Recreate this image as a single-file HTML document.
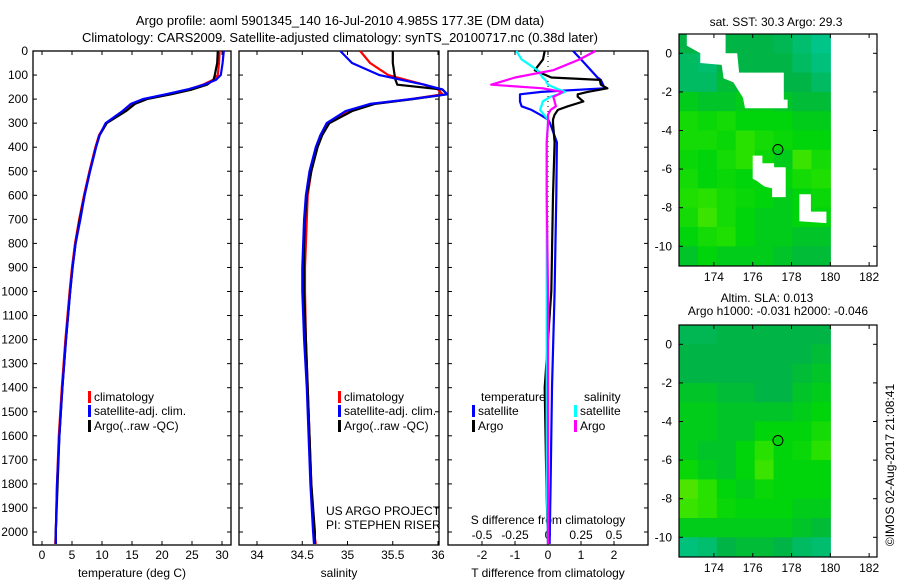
<!DOCTYPE html>
<html><head><meta charset="utf-8"><style>
body{margin:0;background:#fff;}
svg{display:block;font-family:"Liberation Sans",sans-serif;font-size:12px;}
</style></head><body>
<svg id="fig" width="900" height="580" viewBox="0 0 900 580" xmlns="http://www.w3.org/2000/svg">
<rect width="900" height="580" fill="#fff"/>
<text x="340" y="25" text-anchor="middle" font-size="13">Argo profile: aoml 5901345_140 16-Jul-2010 4.985S 177.3E (DM data)</text>
<text x="340" y="42" text-anchor="middle" font-size="13">Climatology: CARS2009. Satellite-adjusted climatology: synTS_20100717.nc (0.38d later)</text>
<g id="g"></g>
</svg>
<script>
// ---- profile data ----
const depthP=[0,50,100,120,140,160,180,200,220,250,300,350,400,500,600,700,800,900,1000,1200,1400,1600,1800,2000,2050];
const argoT=[29.3,29.2,28.8,28.6,27.5,25.0,21.5,17.5,15.5,14.0,10.8,9.6,9.0,8.0,7.1,6.3,5.6,5.1,4.7,4.0,3.4,2.9,2.6,2.3,2.3];
const climT=[29.6,29.5,29.3,28.5,26.8,24.5,21.0,17.2,15.2,13.7,10.7,9.5,8.9,7.9,7.0,6.2,5.5,5.0,4.6,3.9,3.3,2.8,2.5,2.3,2.2];
const satT=[30.3,30.1,29.8,29.0,27.0,24.2,20.6,16.8,14.8,13.4,10.6,9.6,9.0,8.0,7.1,6.4,5.6,5.1,4.7,4.0,3.4,2.9,2.5,2.3,2.3];
const argoS=[35.5,35.5,35.52,35.53,35.55,36.05,36.1,35.72,35.3,35.05,34.8,34.72,34.67,34.6,34.55,34.53,34.52,34.52,34.52,34.54,34.56,34.58,34.6,34.64,34.64];
const climS=[35.14,35.25,35.45,35.65,35.85,36.0,36.05,35.7,35.28,35.0,34.78,34.7,34.66,34.6,34.56,34.55,34.54,34.53,34.53,34.54,34.56,34.58,34.6,34.63,34.65];
const satS=[34.92,35.05,35.35,35.6,35.85,36.05,36.1,35.7,35.25,34.98,34.77,34.7,34.65,34.58,34.54,34.52,34.51,34.5,34.5,34.52,34.55,34.57,34.59,34.62,34.63];
const depthD=[0,35,80,110,120,140,155,170,180,190,210,230,245,265,285,300,380,600,1000,1400,1800,2050];
const dTsat=[0.76,1.0,1.3,1.5,1.6,1.67,1.7,-0.2,-0.85,-0.85,-0.85,-0.8,-0.5,-0.24,0.0,0.06,0.27,0.25,0.2,0.12,0.08,0.05];
const dTargo=[-0.1,-0.15,-0.4,0.1,1.57,1.6,1.8,1.2,0.9,0.9,1.07,0.6,0.3,0.2,0.15,0.15,0.2,0.15,0.1,-0.1,-0.05,0.0];
const dSargo=[0.36,0.24,0.04,-0.25,-0.31,-0.43,-0.04,0.11,0.08,0.04,0.05,0.06,0.02,0.0,0.0,0.0,-0.01,-0.01,0.0,0.0,0.0,0.0];
const dSsat=[-0.24,-0.2,-0.08,-0.04,-0.02,0.0,0.06,0.13,0.08,0.02,-0.04,-0.05,-0.06,-0.03,0.0,0.0,-0.01,-0.01,-0.01,-0.01,-0.01,0.0];
const depthTicks=[0,100,200,300,400,500,600,700,800,900,1000,1100,1200,1300,1400,1500,1600,1700,1800,1900,2000];
const tTicks=[0,5,10,15,20,25,30];
const sTicks=[34,34.5,35,35.5,36];
const dTTicks=[-2,-1,0,1,2];
const dSTicks=[-0.5,-0.25,0,0.25,0.5];
const sTickLabels=["-0.5","-0.25","0","0.25","0.5"];
// ---- map data (rows lat 1..-11, cols lon 172.2..180) ----
const sstGrid=[
[.3,.3,.3,.3,.3,.25,.15,.05],[.2,.15,.3,.3,.3,.3,.2,.1],[.2,.2,.35,.35,.35,.3,.3,.2],
[.45,.4,.4,.45,.45,.4,.35,.35],[.6,.55,.6,.5,.5,.5,.45,.45],[.6,.6,.55,.7,.6,.55,.5,.5],
[.55,.5,.6,.7,.55,.45,.75,.6],[.6,.5,.55,.5,.5,.5,.6,.65],[.65,.7,.6,.55,.5,.45,.5,.55],
[.6,.75,.6,.5,.45,.45,.5,.5],[.5,.6,.65,.5,.45,.45,.4,.4],[.4,.5,.45,.45,.45,.4,.35,.35]];
const slaGrid=[
[.25,.25,.3,.3,.3,.3,.3,.3],[.3,.3,.3,.3,.3,.3,.3,.35],[.3,.3,.3,.3,.3,.3,.35,.4],
[.4,.4,.35,.35,.3,.3,.4,.45],[.45,.45,.4,.4,.4,.4,.45,.5],[.45,.45,.4,.4,.5,.5,.5,.6],
[.45,.4,.4,.5,.7,.5,.55,.7],[.55,.45,.4,.5,.75,.5,.5,.5],[.8,.7,.5,.45,.55,.5,.5,.5],
[.75,.7,.55,.5,.5,.5,.45,.45],[.45,.45,.45,.45,.45,.45,.4,.35],[.1,.15,.3,.35,.35,.3,.2,.15]];
const gap1=[[172.6,1],[174.6,1],[174.6,0],[175.2,0],[175.3,-1],[177.6,-1],[177.6,-2.4],[177.8,-2.4],[177.8,-2.85],[175.6,-2.85],[175.5,-2.3],[175,-1.5],[174.5,-1.3],[174.4,-0.6],[173.3,-0.5],[173.3,0],[172.6,0.4]];
const gap2=[[176,-5.3],[176.5,-5.3],[176.5,-5.7],[177.1,-5.7],[177.1,-5.9],[177.7,-5.9],[177.7,-7.45],[177,-7.45],[177,-7],[176.6,-6.9],[176.2,-6.6],[176,-6.5]];
const gap3=[[178.4,-7.3],[179,-7.3],[179,-8.2],[179.8,-8.2],[179.8,-8.8],[178.4,-8.7]];
const argoLon=177.3, argoLat=-4.985;
const lonTicks=[174,176,178,180,182];
const latTicks=[0,-2,-4,-6,-8,-10];

const NS="http://www.w3.org/2000/svg";
const G=document.getElementById('g');
function mk(tag,at,parent){const e=document.createElementNS(NS,tag);for(const k in at)e.setAttribute(k,at[k]);(parent||G).appendChild(e);return e;}
function txt(s,x,y,anchor,name,extra){const e=mk('text',Object.assign({x:x,y:y,'text-anchor':anchor||'start'},extra||{}));e.textContent=s;


return e;}
const TOP=51,BOT=545;
const yD=d=>51+d*0.2405;
const xT=v=>42+6*v, xS=v=>257+90.5*(v-34), xDT=v=>548+33*v, xDS=v=>548+132*v;
function panel(x0,x1,name){const r=mk('rect',{x:x0,y:TOP,width:x1-x0,height:BOT-TOP,fill:'none',stroke:'#000','stroke-width':1.3});


depthTicks.forEach(d=>{mk('line',{x1:x0,x2:x0+4,y1:yD(d),y2:yD(d),stroke:'#000'});mk('line',{x1:x1,x2:x1-4,y1:yD(d),y2:yD(d),stroke:'#000'});});}
function line(xs,ds,fx,col,name,w){const pts=xs.map((v,i)=>fx(v).toFixed(1)+','+yD(ds[i]).toFixed(1)).join(' ');
const p=mk('polyline',{points:pts,fill:'none',stroke:col,'stroke-width':w||2.2,'stroke-linejoin':'round'});

}
function xaxis(ticks,fx,labels,y,name,x0,x1){ticks.forEach((t,i)=>{const x=fx(t);if(x<x0||x>x1)return;mk('line',{x1:x,x2:x,y1:BOT,y2:BOT-4,stroke:'#000'});mk('line',{x1:x,x2:x,y1:TOP,y2:TOP+4,stroke:'#000'});
txt(labels?labels[i]:String(t),x,y,'middle',name);});}
// panels
panel(33,231,'temperature-panel');panel(239,439,'salinity-panel');panel(448,648,'difference-panel');
depthTicks.forEach(d=>txt(String(d),28,yD(d)+4,'end','depth-tick-label'));
xaxis(tTicks,xT,null,559,'temperature-tick-label',33,231);
xaxis(sTicks,xS,null,559,'salinity-tick-label',239,439);
xaxis(dTTicks,xDT,null,559,'t-diff-tick-label',448,648);
dSTicks.forEach((t,i)=>txt(sTickLabels[i],xDS(t),539,'middle','s-diff-tick-label'));
txt('temperature (deg C)',132,577,'middle','x-axis-title-temperature');
txt('salinity',339,577,'middle','x-axis-title-salinity');
txt('T difference from climatology',548,577,'middle','x-axis-title-t-diff');
txt('S difference from climatology',548,524,'middle','s-diff-axis-title');
// zero line
mk('line',{x1:548,x2:548,y1:TOP,y2:BOT,stroke:'#000','stroke-dasharray':'1,4'});
// profiles
line(climT,depthP,xT,'#f00','climatology-temperature-line');
line(argoT,depthP,xT,'#000','argo-temperature-line');
line(satT,depthP,xT,'#00f','satellite-temperature-line');
line(climS,depthP,xS,'#f00','climatology-salinity-line');
line(argoS,depthP,xS,'#000','argo-salinity-line');
line(satS,depthP,xS,'#00f','satellite-salinity-line');
line(dTsat,depthD,xDT,'#00f','t-diff-satellite-line');
line(dTargo,depthD,xDT,'#000','t-diff-argo-line');
line(dSsat,depthD,xDS,'#0ff','s-diff-satellite-line');
line(dSargo,depthD,xDS,'#f0f','s-diff-argo-line');
// legends
function leg(x,y,col,s,name){mk('rect',{x:x,y:y-10,width:3,height:12,fill:col});txt(s,x+6,y,'start',name);}
leg(88,401,'#f00','climatology','legend-climatology');leg(88,415,'#00f','satellite-adj. clim.','legend-satellite');leg(88,430,'#000','Argo(..raw -QC)','legend-argo');
leg(338,401,'#f00','climatology','legend-climatology');leg(338,415,'#00f','satellite-adj. clim.','legend-satellite');leg(338,430,'#000','Argo(..raw -QC)','legend-argo');
txt('temperature',481,401,'start','legend-header-temperature');txt('salinity',584,401,'start','legend-header-salinity');
leg(472,415,'#00f','satellite','legend-t-satellite');leg(472,430,'#000','Argo','legend-t-argo');
leg(574,415,'#0ff','satellite','legend-s-satellite');leg(574,430,'#f0f','Argo','legend-s-argo');
txt('US ARGO PROJECT',326,515,'start','project-label');txt('PI: STEPHEN RISER',326,529,'start','pi-label');
// maps
const stops=[[0,[0,200,150]],[0.3,[0,180,70]],[0.5,[0,212,10]],[0.7,[40,225,0]],[1,[150,235,0]]];
function col(v){for(let i=1;i<stops.length;i++){if(v<=stops[i][0]){const p=stops[i-1],q=stops[i];const t=(v-p[0])/(q[0]-p[0]);
return 'rgb('+p[1].map((x,k)=>Math.round(x+(q[1][k]-x)*t)).join(',')+')';}}return 'rgb(150,235,0)';}
function map(y0,grid,gaps,name){
const mx=lon=>679+(lon-172.2)*19.4, my=lat=>y0+(1-lat)*19.3;
const g=mk('g',{});
grid.forEach((row,r)=>row.forEach((v,c)=>{const lo=172.2+c*(7.8/8);const la=1-r;
const cell=mk('rect',{x:mx(lo).toFixed(1),y:my(la).toFixed(1),width:(19.4*7.8/8+0.6).toFixed(1),height:19.9,fill:col(v)},g);

}));
gaps.forEach(pg=>{const p=mk('polygon',{points:pg.map(q=>mx(q[0]).toFixed(1)+','+my(q[1]).toFixed(1)).join(' '),fill:'#fff'},g);

});
const c=mk('circle',{cx:mx(argoLon),cy:my(argoLat),r:5,fill:'none',stroke:'#000','stroke-width':1},g);


mk('rect',{x:679,y:y0,width:198,height:232,fill:'none',stroke:'#000','stroke-width':1.2},g);
lonTicks.forEach(l=>{mk('line',{x1:mx(l),x2:mx(l),y1:y0,y2:y0+4,stroke:'#000'},g);mk('line',{x1:mx(l),x2:mx(l),y1:y0+232,y2:y0+228,stroke:'#000'},g);
txt(String(l),mx(l),y0+247,'middle','longitude-tick-label',{});});
latTicks.forEach(l=>{mk('line',{x1:679,x2:683,y1:my(l),y2:my(l),stroke:'#000'},g);mk('line',{x1:877,x2:873,y1:my(l),y2:my(l),stroke:'#000'},g);
txt(String(l),672,my(l)+4,'end','latitude-tick-label');});}
map(34,sstGrid,[gap1,gap2,gap3],'sst-map');
map(325,slaGrid,[],'sla-map');
txt('sat. SST: 30.3 Argo: 29.3',776,26,'middle','sst-map-title');
txt('Altim. SLA: 0.013',767,302,'middle','sla-map-title-1');
txt('Argo h1000: -0.031 h2000: -0.046',778,315,'middle','sla-map-title-2');
txt('©IMOS 02-Aug-2017 21:08:41',894,465,'middle','copyright-stamp',{transform:'rotate(-90 894 465)'});
</script>
</body></html>
